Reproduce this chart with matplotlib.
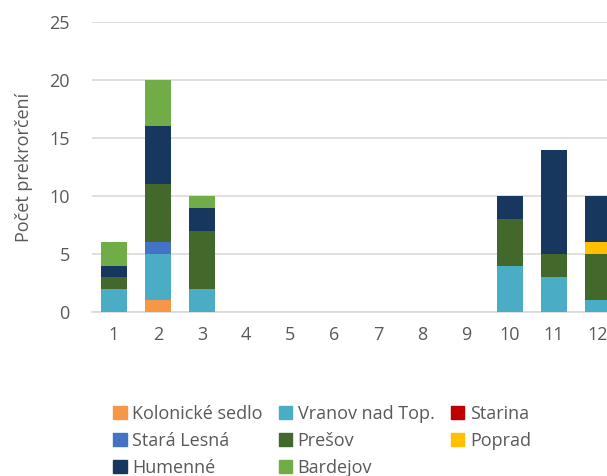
import numpy as np
import matplotlib.pyplot as plt
from matplotlib.patches import Patch

months = [str(m) for m in range(1, 13)]

# pocet prekroceni podla stanice a mesiaca
kolonicke = [0, 1, 0, 0, 0, 0, 0, 0, 0, 0, 0, 0]
vranov    = [2, 4, 2, 0, 0, 0, 0, 0, 0, 4, 3, 1]
starina   = [0, 0, 0, 0, 0, 0, 0, 0, 0, 0, 0, 0]
stara_lesna = [0, 1, 0, 0, 0, 0, 0, 0, 0, 0, 0, 0]
presov    = [1, 5, 5, 0, 0, 0, 0, 0, 0, 4, 2, 4]
poprad    = [0, 0, 0, 0, 0, 0, 0, 0, 0, 0, 0, 1]
humenne   = [1, 5, 2, 0, 0, 0, 0, 0, 0, 2, 9, 4]
bardejov  = [2, 4, 1, 0, 0, 0, 0, 0, 0, 0, 0, 0]

series = [
    ('Kolonické sedlo', kolonicke, '#F79646'),
    ('Vranov nad Top.', vranov, '#4BACC6'),
    ('Starina', starina, '#C00000'),
    ('Stará Lesná', stara_lesna, '#4472C4'),
    ('Prešov', presov, '#43682B'),
    ('Poprad', poprad, '#FFC000'),
    ('Humenné', humenne, '#17375E'),
    ('Bardejov', bardejov, '#70AD47'),
]

plt.rcParams['font.family'] = ['Open Sans', 'DejaVu Sans']
fs = 13

fig = plt.figure(figsize=(6.07, 4.76), dpi=100)
# os presahuje pravy okraj obrazka (ako v originale)
ax = fig.add_axes([92/607, (476-312)/476, 528/607, 290/476])

x = np.arange(len(months))
bottom = np.zeros(len(months))
for name, vals, col in series:
    vals = np.array(vals, dtype=float)
    ax.bar(x, vals, width=0.57, bottom=bottom, color=col, label=name, zorder=3,
           linewidth=0)
    bottom += vals

ax.set_xlim(-0.5, 11.5)
ax.set_ylim(0, 25)
ax.set_yticks(range(0, 26, 5))
ax.set_xticks(x)
ax.set_xticklabels(months)
ax.grid(axis='y', color='#D9D9D9', linewidth=1.2, zorder=0)
for s in ['top', 'right', 'left']:
    ax.spines[s].set_visible(False)
ax.spines['bottom'].set_color('#D9D9D9')
ax.spines['bottom'].set_linewidth(1.2)
ax.tick_params(axis='both', length=0, labelsize=fs, colors='#595959', pad=10)
ax.tick_params(axis='y', pad=16)
ax.set_ylabel('Počet prekrorčení', fontsize=fs, color='#595959', labelpad=12)

# poradie legendy po riadkoch ako v Exceli
order = [0, 3, 6, 1, 4, 7, 2, 5]
handles = [Patch(color=series[i][2]) for i in order]
labels = [series[i][0] for i in order]
fig.legend(handles, labels, ncol=3, loc='upper left', bbox_to_anchor=(104/607, 1 - 396/476),
           frameon=False, fontsize=fs, labelcolor='#595959', handlelength=0.75,
           handleheight=0.75, handletextpad=0.3, columnspacing=0.9, labelspacing=0.5,
           borderpad=0.0)

fig.savefig('out.png', dpi=100)
